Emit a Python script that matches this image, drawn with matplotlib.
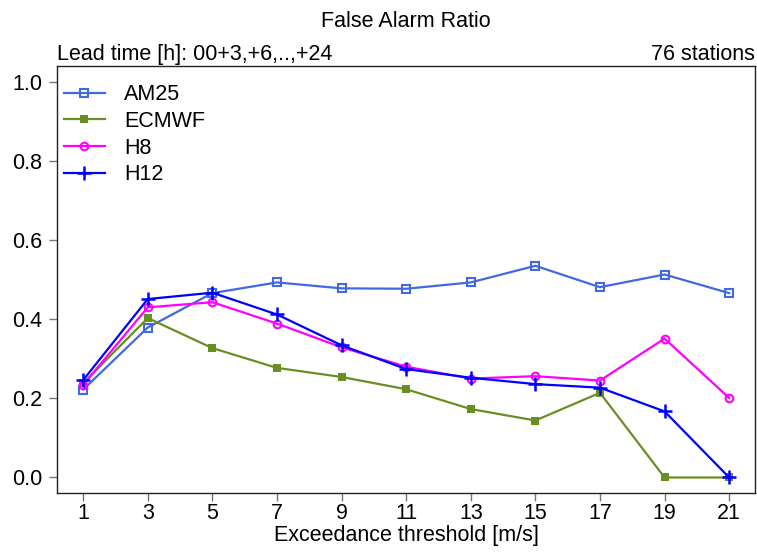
import matplotlib
matplotlib.use("Agg")
import matplotlib.pyplot as plt

plt.rcParams['font.family'] = ['Liberation Sans', 'DejaVu Sans']

thresholds = [1, 3, 5, 7, 9, 11, 13, 15, 17, 19, 21]
am25 = [0.222, 0.379, 0.466, 0.493, 0.478, 0.477, 0.493, 0.535, 0.481, 0.513, 0.466]
ecmwf = [0.238, 0.403, 0.327, 0.277, 0.254, 0.223, 0.173, 0.144, 0.214, 0.0, 0.0]
h8 = [0.234, 0.430, 0.443, 0.389, 0.329, 0.280, 0.250, 0.256, 0.245, 0.351, 0.201]
h12 = [0.246, 0.451, 0.467, 0.412, 0.334, 0.274, 0.252, 0.236, 0.227, 0.167, 0.0]
yticks = [0.0, 0.2, 0.4, 0.6, 0.8, 1.0]

fs = 15.5
fig = plt.figure(figsize=(7.57, 5.53), dpi=100)
ax = fig.add_axes([57.3/757, 1 - 493.3/553, (755 - 57.3)/757, (493.3 - 66)/553])

ax.plot(thresholds, am25, color='#4169E1', lw=1.6, marker='s', ms=5.5, mfc='none', mew=1.5, label='AM25')
ax.plot(thresholds, ecmwf, color='#6B8E23', lw=1.6, marker='s', ms=5.5, mew=0, label='ECMWF')
ax.plot(thresholds, h8, color='#FF00FF', lw=1.6, marker='o', ms=5.5, mfc='none', mew=1.5, label='H8')
ax.plot(thresholds, h12, color='#0000FF', lw=1.6, marker='+', ms=10, mew=1.8, label='H12')

ax.set_xlim(0.2, 21.8)
ax.set_ylim(-0.04, 1.04)
ax.set_xticks(thresholds)
ax.set_xticklabels([str(t) for t in thresholds])
ax.set_yticks(yticks)
ax.set_yticklabels([f"{v:.1f}" for v in yticks])
ax.tick_params(axis='both', labelsize=fs, length=6, width=1, color='#777777', direction='out')
ax.tick_params(axis='y', pad=5)
ax.tick_params(axis='x', pad=1)
for s in ax.spines.values():
    s.set_linewidth(1.0)
    s.set_color('#222222')

ax.set_xlabel('Exceedance threshold [m/s]', fontsize=fs, labelpad=1)
ax.text(0, 1.003, 'Lead time [h]: 00+3,+6,..,+24', transform=ax.transAxes, ha='left', va='bottom', fontsize=fs)
ax.text(1, 1.003, '76 stations', transform=ax.transAxes, ha='right', va='bottom', fontsize=fs)
ax.set_title('False Alarm Ratio', fontsize=fs, pad=28)

leg = ax.legend(loc='upper left', frameon=False, fontsize=fs, handlelength=1.9, handletextpad=0.9,
                labelspacing=0.26, borderaxespad=0.2, borderpad=0.1,
                bbox_to_anchor=(0, 0.972))

fig.savefig('out.png', dpi=100)
